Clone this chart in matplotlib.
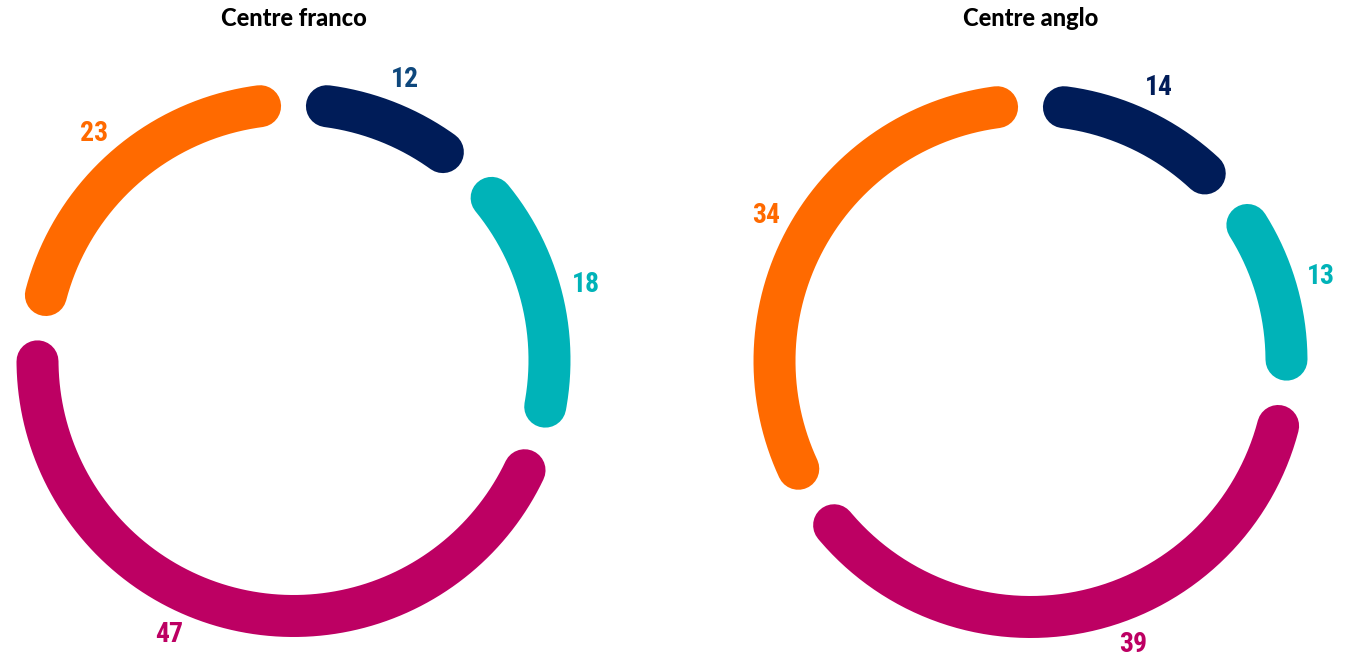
import numpy as np
import matplotlib
matplotlib.use("Agg")
import matplotlib.pyplot as plt
from matplotlib import font_manager

# Shares by group for each centre
groups = ["Groupe A", "Groupe B", "Groupe C", "Groupe D"]
franco_values = [12, 18, 47, 23]
anglo_values = [14, 13, 39, 34]
titles = ["Centre franco", "Centre anglo"]

arc_colors = ["#001c58", "#00b3b8", "#bd0063", "#ff6a00"]
franco_label_colors = ["#0e477c", "#00b3b8", "#bd0063", "#ff6a00"]
anglo_label_colors = ["#001c58", "#00b3b8", "#bd0063", "#ff6a00"]

W, H = 1346, 659
fig = plt.figure(figsize=(W / 100, H / 100), dpi=100)
ax = fig.add_axes([0, 0, 1, 1])
ax.set_xlim(0, W)
ax.set_ylim(H, 0)
ax.axis("off")

installed = {f.name for f in font_manager.fontManager.ttflist}
narrow = [f for f in ["Liberation Sans Narrow", "DejaVu Sans Condensed", "Roboto Condensed"] if f in installed]
label_family = narrow + ["Roboto", "DejaVu Sans"]

radius = 256
pad = 7.5  # degrees trimmed at each end of a segment
lw_px = 42
label_r = 302


def donut(cx, cy, values, title, label_color_list, label_ymax):
    total = float(sum(values))
    start = 0.0
    for v, c, lc in zip(values, arc_colors, label_color_list):
        span = v / total * 360.0
        a0, a1 = start + pad, start + span - pad
        t = np.radians(np.linspace(a0, a1, 200))
        x = cx + radius * np.sin(t)
        y = cy - radius * np.cos(t)
        ax.plot(x, y, color=c, lw=lw_px * 0.72, solid_capstyle="round")
        mid = start + span / 2.0
        lx = cx + label_r * np.sin(np.radians(mid))
        ly = cy - label_r * np.cos(np.radians(mid))
        if ly > label_ymax:
            # slide the label along its circle until it stays inside the canvas
            off = np.degrees(np.arccos((label_ymax - cy) / label_r))
            ang = 180 + off if lx < cx else 180 - off
            lx = cx + label_r * np.sin(np.radians(ang))
            ly = cy - label_r * np.cos(np.radians(ang))
        ax.text(lx, ly, str(v), color=lc, fontsize=20, fontweight="bold",
                family=label_family, ha="center", va="center")
        start += span
    ax.text(cx, 19, title, fontsize=17, fontweight="black", family=["Lato", "DejaVu Sans"],
            color="#000000", ha="center", va="center")


donut(293.5, 360, franco_values, titles[0], franco_label_colors, 635)
donut(1030.5, 361, anglo_values, titles[1], anglo_label_colors, 645)

fig.savefig("out.png", dpi=100, facecolor="white")
